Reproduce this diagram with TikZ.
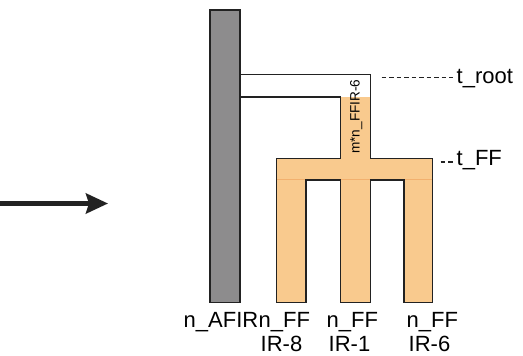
\documentclass[tikz,border=0pt]{standalone}
\usepackage{fontspec}
\setmainfont{Liberation Sans}
\usetikzlibrary{arrows.meta}
\definecolor{ffor}{HTML}{F9CA8E}
\definecolor{ffline}{HTML}{F2B06E}
\definecolor{afgray}{HTML}{8D8C8D}
\definecolor{outl}{HTML}{222222}
\tikzset{
  lbl/.style={inner sep=0pt, anchor=base west, text depth=0pt, font=\fontsize{22}{25}\selectfont},
  outline/.style={draw=outl, line width=1.4pt, line join=miter},
  guide/.style={draw=outl, line width=1.2pt, dash pattern=on 4.5pt off 3pt},
}
\begin{document}
\begin{tikzpicture}[x=1pt,y=-1pt]
\useasboundingbox (0,0) rectangle (523,356);
% arrow
\coordinate (arrS) at (0,203.5);
\coordinate (arrE) at (108,203.5);
\draw[line width=4.5pt, outl, -{Stealth[length=22pt,width=20pt,inset=3pt]}] (arrS) -- (arrE);
% orange FF structure
\fill[ffor] (340.7,97) -- (370.7,97) -- (370.7,158.3) -- (432.3,158.3) -- (432.3,302.7)
  -- (404,302.7) -- (404,180) -- (370.7,180) -- (370.7,302.7) -- (340.7,302.7)
  -- (340.7,180) -- (306,180) -- (306,302.7) -- (276.7,302.7) -- (276.7,158.3)
  -- (340.7,158.3) -- cycle;
\draw[ffline, line width=0.6pt] (276.7,179.3) -- (432.3,179.3);
% outline of root + FF tree
\draw[outline] (240,74.3) -- (370.7,74.3) -- (370.7,158.3) -- (432.3,158.3) -- (432.3,302.7)
  -- (404,302.7) -- (404,180) -- (370.7,180) -- (370.7,302.7) -- (340.7,302.7)
  -- (340.7,180) -- (306,180) -- (306,302.7) -- (276.7,302.7) -- (276.7,158.3)
  -- (340.7,158.3) -- (340.7,97) -- (240,97);
% gray AFIR bar
\draw[outline, fill=afgray] (210,10) rectangle (240,302.7);
% stem label
\node[inner sep=0pt, rotate=90, font=\fontsize{13.6}{15}\selectfont] (stem) at (356.3,116.7) {m*n\_FFIR-6};
% right labels
\node[lbl] (troot) at (456.5,83.3) {t\_root};
\node[lbl] (tff) at (456.5,165.7) {t\_FF};
\coordinate (rootA) at (381.7,77.7);
\coordinate (ffA) at (440.7,162);
\draw[guide] (rootA) -- ([xshift=-4pt]rootA -| troot.west);
\draw[guide] (ffA) -- ([xshift=-4pt]ffA -| tff.west);
% bottom labels
\node[lbl] (afir) at (183.5,327) {n\_AFIR};
\node[lbl] (ff8a) at (258.5,327) {n\_FF};
\node[lbl] (ff8b) at (260.5,351.5) {IR-8};
\node[lbl] (ff1a) at (326.5,327) {n\_FF};
\node[lbl] (ff1b) at (328.5,351.5) {IR-1};
\node[lbl] (ff6a) at (406.5,327) {n\_FF};
\node[lbl] (ff6b) at (408.5,351.5) {IR-6};
\end{tikzpicture}
\end{document}
